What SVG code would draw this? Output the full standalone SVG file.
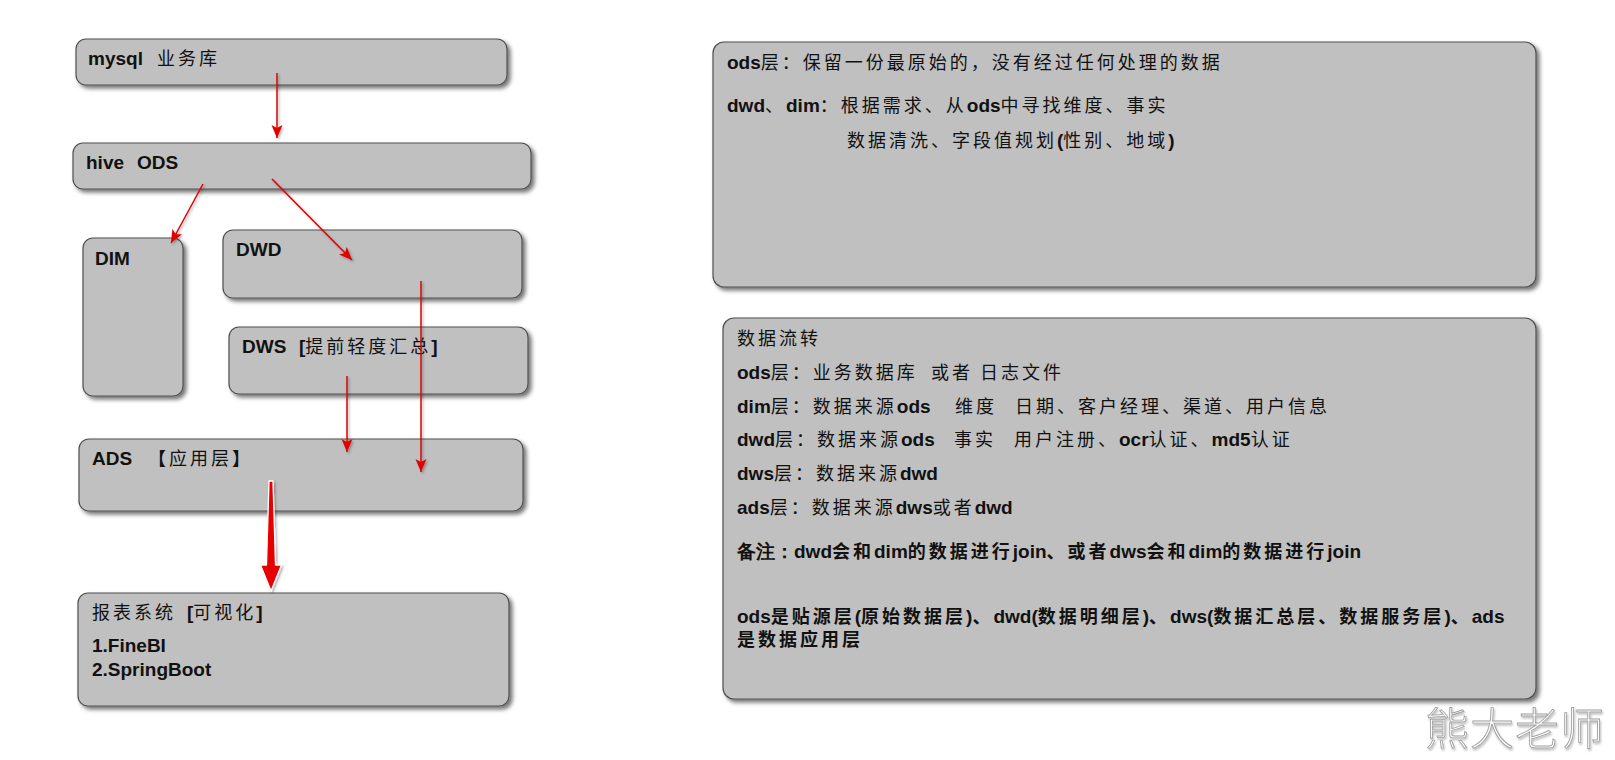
<svg xmlns="http://www.w3.org/2000/svg" width="1615" height="760" viewBox="0 0 1615 760">
<defs>
<style>
.box{fill:#c0c0c0;stroke:#505050;stroke-width:1.2;filter:url(#sh)}
.t{font-family:"Liberation Sans","Noto Sans CJK SC",sans-serif;font-size:18px;letter-spacing:3px;fill:#111}
.b{font-family:"Liberation Sans",sans-serif;font-weight:bold;font-size:19px;letter-spacing:0}
.bb{font-weight:bold}
.lat{font-family:"Liberation Sans","Noto Sans CJK SC",sans-serif;font-weight:bold;font-size:19px;fill:#111}
.conn{stroke:#e00000;stroke-width:1.5;fill:none;marker-end:url(#ah)}
.wm{font-family:"Noto Sans CJK SC",sans-serif;font-size:44px;letter-spacing:1px;fill:#ffffff;stroke:#a0a0a0;stroke-width:0.9;font-weight:300}
</style>
<filter id="sh" x="-5%" y="-10%" width="115%" height="130%">
<feDropShadow dx="3" dy="3" stdDeviation="2" flood-color="#000" flood-opacity="0.55"/>
</filter>
<filter id="ash" x="-50%" y="-10%" width="200%" height="130%">
<feDropShadow dx="1.5" dy="1.5" stdDeviation="1" flood-color="#000" flood-opacity="0.3"/>
</filter>
<filter id="wsh" x="-10%" y="-20%" width="120%" height="150%">
<feDropShadow dx="1" dy="2" stdDeviation="1" flood-color="#000" flood-opacity="0.25"/>
</filter>
<marker id="ah" markerUnits="userSpaceOnUse" markerWidth="14" markerHeight="12" refX="13" refY="5.5" orient="auto">
<path d="M0,0 L13,5.5 L0,11 L3,5.5 z" fill="#e00000"/>
</marker>
</defs>
<rect width="1615" height="760" fill="#ffffff"/>

<g id="mysql">
<rect class="box" x="76" y="39" width="431" height="46" rx="10"/>
<text class="t" x="88" y="65"><tspan class="b">mysql</tspan><tspan x="157">业务库</tspan></text>
</g>
<g id="hive">
<rect class="box" x="73" y="143" width="458" height="46" rx="10"/>
<text class="lat" x="86" y="169">hive<tspan x="137">ODS</tspan></text>
</g>
<g id="dim">
<rect class="box" x="83" y="238" width="100" height="158" rx="10"/>
<text class="lat" x="95" y="265">DIM</text>
</g>
<g id="dwd">
<rect class="box" x="223" y="230" width="299" height="68" rx="10"/>
<text class="lat" x="236" y="256">DWD</text>
</g>
<g id="dws">
<rect class="box" x="229" y="327" width="299" height="67" rx="10"/>
<text class="t" x="242" y="353"><tspan class="b">DWS</tspan><tspan x="299" class="b">[</tspan>提前轻度汇总<tspan class="b">]</tspan></text>
</g>
<g id="ads">
<rect class="box" x="79" y="439" width="444" height="72" rx="10"/>
<text class="t" x="92" y="465"><tspan class="b">ADS</tspan><tspan x="148" class="bb">【</tspan>应用层<tspan class="bb">】</tspan></text>
</g>
<g id="report">
<rect class="box" x="78" y="593" width="431" height="113" rx="10"/>
<text class="t" x="92" y="619">报表系统<tspan x="187" class="b">[</tspan>可视化<tspan class="b">]</tspan></text>
<text class="lat" x="92" y="652">1.FineBI</text>
<text class="lat" x="92" y="676">2.SpringBoot</text>
</g>

<g id="connectors" filter="url(#ash)">
<line class="conn" x1="277" y1="73" x2="277" y2="138"/>
<line class="conn" x1="203" y1="184" x2="171" y2="243"/>
<line class="conn" x1="272" y1="179" x2="352" y2="260"/>
<line class="conn" x1="421" y1="281" x2="421" y2="472"/>
<line class="conn" x1="347" y1="376" x2="347" y2="452"/>
<polygon points="269,481 273,481 275.5,565 281.5,565 271,591 260.5,565 266.5,565" fill="#e60000" stroke="#ffffff" stroke-width="1.3" stroke-linejoin="round"/>
</g>

<g id="note1">
<rect class="box" x="713" y="42" width="823" height="245" rx="11"/>
<text class="t" x="727" y="69"><tspan class="b">ods</tspan>层：保留一份最原始的，没有经过任何处理的数据</text>
<text class="t" x="727" y="112"><tspan class="b">dwd</tspan>、<tspan class="b">dim</tspan>：根据需求、从<tspan class="b">ods</tspan>中寻找维度、事实</text>
<text class="t" x="847" y="147">数据清洗、字段值规划<tspan class="b">(</tspan>性别、地域<tspan class="b">)</tspan></text>
</g>

<g id="note2">
<rect class="box" x="723" y="318" width="813" height="381" rx="11"/>
<text class="t" x="737" y="345">数据流转</text>
<text class="t" x="737" y="379"><tspan class="b">ods</tspan>层：业务数据库<tspan x="931">或者</tspan><tspan x="980">日志文件</tspan></text>
<text class="t" x="737" y="413"><tspan class="b">dim</tspan>层：数据来源<tspan class="b">ods</tspan><tspan x="955">维度</tspan><tspan x="1015">日期、客户经理、渠道、用户信息</tspan></text>
<text class="t" x="737" y="446"><tspan class="b">dwd</tspan>层：数据来源<tspan class="b">ods</tspan><tspan x="954">事实</tspan><tspan x="1014">用户注册、</tspan><tspan class="b">ocr</tspan>认证、<tspan class="b">md5</tspan>认证</text>
<text class="t" x="737" y="480"><tspan class="b">dws</tspan>层：数据来源<tspan class="b">dwd</tspan></text>
<text class="t" x="737" y="514"><tspan class="b">ads</tspan>层：数据来源<tspan class="b">dws</tspan>或者<tspan class="b">dwd</tspan></text>
<text class="t bb" x="737" y="558"><tspan class="b">备注：</tspan><tspan class="b">dwd</tspan>会和<tspan class="b">dim</tspan>的数据进行<tspan class="b">join</tspan>、或者<tspan class="b">dws</tspan>会和<tspan class="b">dim</tspan>的数据进行<tspan class="b">join</tspan></text>
<text class="t bb" x="737" y="623"><tspan class="b">ods</tspan>是贴源层<tspan class="b">(</tspan>原始数据层<tspan class="b">)</tspan>、<tspan class="b">dwd(</tspan>数据明细层<tspan class="b">)</tspan>、<tspan class="b">dws(</tspan>数据汇总层、数据服务层<tspan class="b">)</tspan>、<tspan class="b">ads</tspan></text>
<text class="t bb" x="737" y="646">是数据应用层</text>
</g>

<text class="wm" x="1425" y="745" filter="url(#wsh)">熊大老师</text>
</svg>
